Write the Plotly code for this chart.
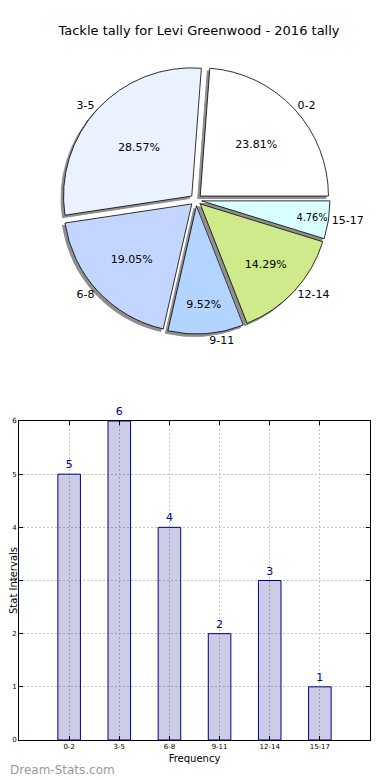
import plotly.graph_objects as go

title_text = "Tackle tally for Levi Greenwood - 2016 tally"
categories = ["0-2", "3-5", "6-8", "9-11", "12-14", "15-17"]
values = [5, 6, 4, 2, 3, 1]
pie_colors = ["#FFFFFF", "#EAF1FF", "#C3D6FF", "#B3D4FF", "#CFEA8B", "#DAFFFF"]
bar_fill = "rgba(0,0,128,0.2)"
bar_edge = "#00008B"

OFF = 8  # page body margin
W, H = 390 - OFF, 780 - OFF
ml, mr, mt, mb = 19 - OFF, 20, 0, 40
pw, ph = W - ml - mr, H - mt - mb


def px_x(x):
    return (x - OFF - ml) / pw


def px_y(y):
    return (H - mb - (y - OFF)) / ph


# pie box in screen pixels
pl, pr_, ptop, pbot = 57, 335, 66, 334
dom_x = [px_x(pl), px_x(pr_)]
dom_y = [px_y(pbot), px_y(ptop)]
sh = 2.5
pull = [0.045] * len(values)
# first slice starts at 3 o'clock and the pie runs counterclockwise
rot = 90 - 360 * values[0] / sum(values)

fig = go.Figure()

# shadow
fig.add_trace(go.Pie(
    labels=categories, values=values, sort=False, direction="counterclockwise",
    rotation=rot, pull=pull,
    marker=dict(colors=["#8E8E8E"] * len(values), line=dict(color="#8E8E8E", width=1)),
    textinfo="none", hoverinfo="skip", showlegend=False,
    domain=dict(x=[dom_x[0] - sh / pw, dom_x[1] - sh / pw], y=[dom_y[0] - sh / ph, dom_y[1] - sh / ph]),
))
# main pie with percentages
fig.add_trace(go.Pie(
    labels=categories, values=values, sort=False, direction="counterclockwise",
    rotation=rot, pull=pull,
    marker=dict(colors=pie_colors, line=dict(color="#000000", width=0.8)),
    texttemplate="%{percent:.2%}", textposition="inside", insidetextorientation="horizontal",
    textfont=dict(family="DejaVu Sans", size=11, color="#000000"),
    showlegend=False,
    domain=dict(x=dom_x, y=dom_y),
))
# labels outside
fig.add_trace(go.Pie(
    labels=categories, values=values, sort=False, direction="counterclockwise",
    rotation=rot, pull=pull,
    marker=dict(colors=["rgba(0,0,0,0)"] * len(values), line=dict(width=0)),
    textinfo="label", textposition="outside",
    textfont=dict(family="DejaVu Sans", size=11, color="#000000"),
    showlegend=False, hoverinfo="skip",
    domain=dict(x=dom_x, y=dom_y),
))

fig.add_trace(go.Bar(
    x=categories, y=values, width=0.45,
    marker=dict(color=bar_fill, line=dict(color=bar_edge, width=1)),
    text=[str(v) for v in values], textposition="outside",
    textfont=dict(family="DejaVu Sans", size=11, color=bar_edge),
    cliponaxis=False, showlegend=False,
    xaxis="x", yaxis="y",
))

grid_style = dict(showgrid=True, gridcolor="#C4C4C4", griddash="2px,2px", gridwidth=1)

fig.update_layout(
    width=W, height=H,
    margin=dict(l=ml, r=mr, t=mt, b=mb),
    paper_bgcolor="white", plot_bgcolor="white",
    font=dict(family="DejaVu Sans", color="#000000"),
    title=dict(text=title_text, x=0.5, xanchor="center", y=1 - (30 - OFF) / H, yanchor="middle",
               font=dict(size=13, color="#000000")),
    xaxis=dict(
        domain=[0, 1], range=[-1, 6], type="category", **grid_style,
        showline=True, linecolor="#000000", linewidth=1, mirror="ticks",
        ticks="inside", ticklen=4, tickcolor="#000000",
        tickfont=dict(size=7, color="#000000"),
        title=dict(text="Frequency", font=dict(size=10), standoff=4),
        zeroline=False, automargin=False,
    ),
    yaxis=dict(
        domain=[0, px_y(421)], range=[0, 6], dtick=1, **grid_style,
        showline=True, linecolor="#000000", linewidth=1, mirror="ticks",
        ticks="inside", ticklen=4, tickcolor="#000000",
        tickfont=dict(size=7, color="#000000"),
        title=dict(text="Stat Intervals", font=dict(size=10), standoff=2),
        zeroline=False, automargin=False,
    ),
    annotations=[dict(
        text="Dream-Stats.com", xref="paper", yref="paper",
        x=px_x(OFF), y=px_y(770), xanchor="left", yanchor="middle", showarrow=False,
        font=dict(size=12, color="#9A9A9A", family="DejaVu Sans"),
    )],
)

fig.write_html("out.html")
